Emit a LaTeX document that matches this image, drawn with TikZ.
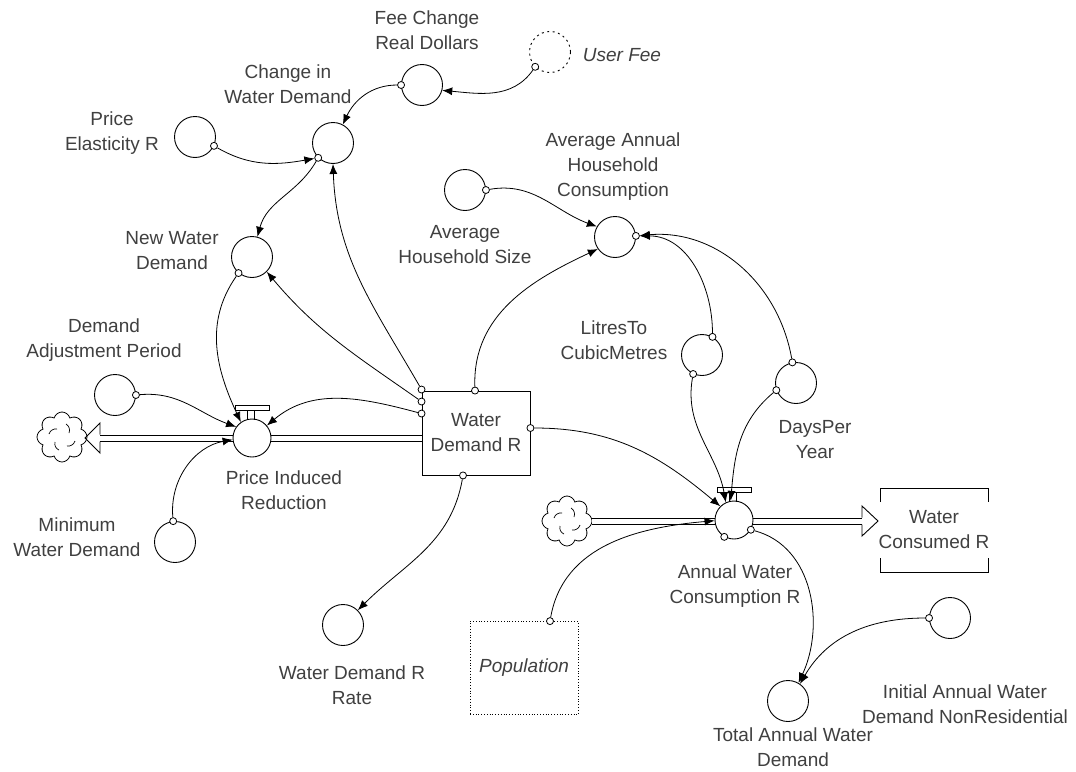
\documentclass[tikz,border=0pt]{standalone}
\usepackage{fontspec}
\setmainfont{Liberation Sans}
\usetikzlibrary{arrows.meta,shapes.symbols}
\begin{document}
\begin{tikzpicture}[x=1pt,y=-1pt,
  lbl/.style={align=center, font=\fontsize{19}{25}\selectfont, text=black!75, inner sep=0pt},
  aux/.style={circle, draw, line width=0.9pt, minimum size=41pt, inner sep=0pt, fill=white},
  valvec/.style={circle, draw, line width=0.9pt, minimum size=38pt, inner sep=0pt, fill=white},
  port/.style={circle, draw, line width=0.8pt, minimum size=7pt, inner sep=0pt, fill=white},
  link/.style={line width=0.8pt, -{Latex[length=10pt,width=8pt]}},
  pipe/.style={double distance=5pt, line width=1pt},
  source/.style={cloud, draw, cloud puffs=8, aspect=1, minimum width=50pt, minimum height=50pt, line width=0.8pt, inner sep=0pt},
  stock/.style={draw, line width=0.9pt, minimum width=108pt, minimum height=84pt, inner sep=0pt, fill=white, align=center, font=\fontsize{19}{25}\selectfont, text=black!75},
]
\useasboundingbox[fill=white] (0,0) rectangle (1076,771);

% auxiliary variables
\node[aux] (fee) at (422,85) {};
\node[aux, dash pattern=on 2pt off 3.5pt] (ufee) at (550,52) {};
\node[aux] (chg) at (333,143) {};
\node[aux] (pel) at (195,137) {};
\node[aux] (nwd) at (252,257) {};
\node[aux] (ahs) at (465,190) {};
\node[aux] (aahc) at (615,237) {};
\node[aux] (ltcm) at (702,355) {};
\node[aux] (dap) at (115,395) {};
\node[aux] (dpy) at (796,383) {};
\node[aux] (mwd) at (175,542) {};
\node[aux] (wdrr) at (343,625) {};
\node[aux] (iawd) at (950,618) {};
\node[aux] (tawd) at (788,701) {};

% stocks, clouds, shadow variable
\node[stock] (wdr) at (476,433) {Water\\Demand R};
\node[source] (cl1) at (62,437) {};
\node[source] (cl2) at (567,521) {};
\foreach \c in {cl1,cl2}{
  \begin{scope}[shift={(\c.center)}]
    \draw[line width=0.7pt] (-13,-3) to[bend left=40] (-5,-8);
    \draw[line width=0.7pt] (4,-13) to[bend left=40] (7,-4);
    \draw[line width=0.7pt] (13,4) to[bend left=40] (5,9);
    \draw[line width=0.7pt] (-3,13) to[bend left=40] (-7,5);
  \end{scope}
}
\node[draw, dotted, line width=0.8pt, minimum width=108pt, minimum height=93pt, inner sep=0pt,
      font=\fontsize{19}{25}\selectfont\itshape, text=black!75] (pop) at (524,668) {Population};
\coordinate (wcl) at (934,530);
\draw[line width=0.9pt] (880,502) -- (880,488) -- (988,488) -- (988,502);
\draw[line width=0.9pt] (880,558) -- (880,572) -- (988,572) -- (988,558);

% flow pipes
\coordinate (sinktip) at (85,438);
\coordinate (sinkbase) at (100,438);
\draw[pipe] (wdr.west |- sinkbase) -- (sinkbase);
\draw[line width=0.9pt] (100,434.5) -- (100,423) -- (sinktip) -- (100,453) -- (100,441.5);
\coordinate (wctip) at (878,521);
\coordinate (wcbase) at (862,521);
\draw[pipe] (cl2.east |- wcbase) -- (wcbase);
\draw[line width=0.9pt] (862,517.5) -- (862,506) -- (wctip) -- (862,536) -- (862,524.5);

% valves
\node[valvec] (pir) at (252,438) {};
\node[valvec] (awc) at (734,520) {};
\foreach \v in {pir,awc}{
  \begin{scope}[shift={(\v.center)}]
    \draw[line width=0.8pt, fill=white] (-17,-33) rectangle (17,-28);
    \draw[line width=0.8pt] (-5,-28) -- (-5,-18.5) (2,-28) -- (2,-18.5);
  \end{scope}
}

% connector origins
\node[port] (ufp) at (ufee.225) {};
\node[port] (feep) at (fee.180) {};
\node[port] (pelp) at (pel.-25) {};
\node[port] (chgp) at (chg.225) {};
\node[port] (nwdp) at (nwd.230) {};
\node[port] (dapp) at (dap.0) {};
\node[port] (mwdp) at (mwd.95) {};
\node[port] (ahsp) at (ahs.0) {};
\node[port] (aahcp) at (aahc.3) {};
\node[port] (ltcmt) at (ltcm.60) {};
\node[port] (ltcmb) at (ltcm.245) {};
\node[port] (dpyt) at (dpy.100) {};
\node[port] (dpyl) at (dpy.200) {};
\node[port] (wdra) at ([yshift=1pt]wdr.north west) {};
\node[port] (wdrb) at ([yshift=-11pt]wdr.north west) {};
\node[port] (wdrc) at ([yshift=-23pt]wdr.north west) {};
\node[port] (wdrt) at ([xshift=-1pt]wdr.north) {};
\node[port] (wdre) at ([yshift=5pt]wdr.east) {};
\node[port] (wdrs) at ([xshift=-13pt]wdr.south) {};
\node[port] (awcr) at (awc.-30) {};
\node[port] (awcb) at (awc.240) {};
\node[port] (popp) at ([xshift=26pt]pop.north) {};
\node[port] (iawdp) at (iawd.180) {};

% information links
\draw[link] (ufp) to[out=235,in=-5] (fee.-15);
\draw[link] (feep) to[out=180,in=65] (chg.62);
\draw[link] (pelp) to[out=-30,in=190] (chgp);
\draw[link] (chgp) to[out=240,in=75] (nwd.75);
\draw[link] (wdra) to[out=120,in=-88] (chg.-90);
\draw[link] (wdrb) to[out=145,in=-50] (nwd.-45);
\draw[link] (wdrc) to[out=165,in=40] (pir.40);
\draw[link] (nwdp) to[out=235,in=115] (pir.125);
\draw[link] (dapp) to[out=5,in=160] (pir.145);
\draw[link] (mwdp) to[out=95,in=190] (pir.185);
\draw[link] (ahsp) to[out=10,in=160] (aahc.150);
\draw[link] (wdrt) to[out=92,in=205] (aahc.215);
\draw[link] (ltcmt) to[out=90,in=0] (aahcp);
\draw[link] (dpyt) to[out=100,in=5] (aahcp);
\draw[link] (ltcmb) to[out=260,in=100] (awc.115);
\draw[link] (dpyl) to[out=220,in=85] (awc.100);
\draw[link] (wdre) to[out=0,in=140] (awc.135);
\draw[link] (popp) to[out=80,in=185] (awc.182);
\draw[link] (awcr) to[out=-15,in=65] (tawd.60);
\draw[link] (iawdp) to[out=180,in=60] (tawd.55);
\draw[link] (wdrs) to[out=-100,in=45] (wdrr.45);

% names
\node[lbl] (t1) at (427,30) {Fee Change\\Real Dollars};
\node[lbl] (t2) at (622,55) {\itshape User Fee};
\node[lbl] (t3) at (288,84) {Change in\\Water Demand};
\node[lbl] (t4) at (112,133) {Price\\Elasticity R};
\node[lbl] (t5) at (172,251) {New Water\\Demand};
\node[lbl] (t6) at (613,167) {Average Annual\\Household\\Consumption};
\node[lbl] (t7) at (465,245) {Average\\Household Size};
\node[lbl] (t8) at (614,340) {LitresTo\\CubicMetres};
\node[lbl] (t9) at (104,340) {Demand\\Adjustment Period};
\node[lbl] (t10) at (815,440) {DaysPer\\Year};
\node[lbl] (t11) at (284,490) {Price Induced\\Reduction};
\node[lbl] (t12) at (77,537) {Minimum\\Water Demand};
\node[lbl] (t13) at (wcl) {Water\\Consumed R};
\node[lbl] (t14) at (735,586) {Annual Water\\Consumption R};
\node[lbl] (t15) at (352,685) {Water Demand R\\Rate};
\node[lbl] (t16) at (965,704) {Initial Annual Water\\Demand NonResidential};
\node[lbl] (t17) at (793,747) {Total Annual Water\\Demand};
\end{tikzpicture}
\end{document}
